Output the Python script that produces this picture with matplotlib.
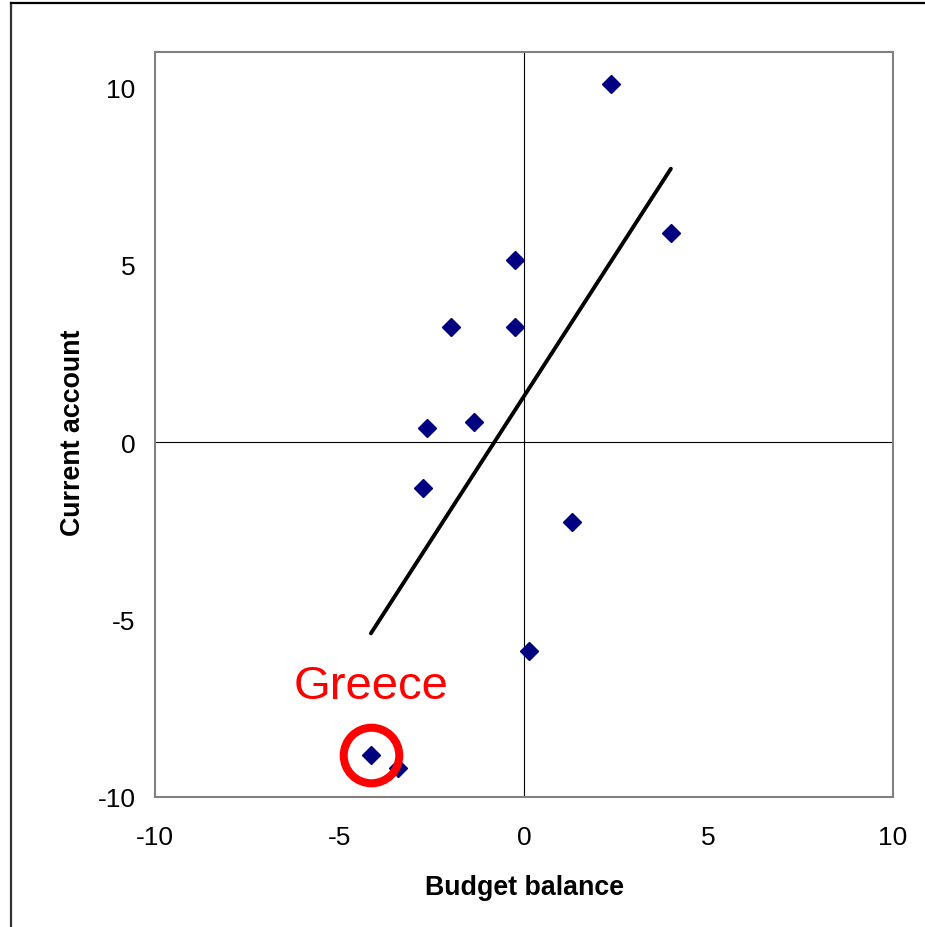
import matplotlib.pyplot as plt
from matplotlib.lines import Line2D
import numpy as np

# budget balance vs current account (% of GDP)
budget = [2.36, 3.98, -0.24, -1.98, -0.24, -1.36, -2.63, -2.74, 1.30, 0.14, -4.15, -3.41]
current = [10.11, 5.89, 5.13, 3.24, 3.24, 0.56, 0.39, -1.30, -2.25, -5.89, -8.82, -9.18]
greece = (-4.15, -8.82)
ticks = [-10, -5, 0, 5, 10]

plt.rcParams['font.family'] = ['Liberation Sans', 'DejaVu Sans']
plt.rcParams['axes.unicode_minus'] = False

fig = plt.figure(figsize=(9.25, 9.28), dpi=100)
ax = fig.add_axes([0.1676, 0.1401, 0.7978, 0.8028])

ax.axhline(0, color='black', lw=0.8, zorder=1)
ax.axvline(0, color='black', lw=0.8, zorder=1)

# linear trend line over the data range
k, b = np.polyfit(budget, current, 1)
xs = np.array([min(budget), max(budget)])
ax.plot(xs, k * xs + b, color='black', lw=2.8, solid_capstyle='round', zorder=2)

ax.plot(budget, current, 'D', color='#000080', markersize=9.5, zorder=3)

# highlight Greece
ax.plot(*greece, 'o', markersize=40, mfc='none', mec='#ff0000', mew=5.8, zorder=4)
ax.text(greece[0], greece[1] + 1.6, 'Greece', color='#ff0000', fontsize=34,
        ha='center', va='baseline')

ax.set_xlim(-10, 10)
ax.set_ylim(-10, 11)
ax.set_xticks(ticks)
ax.set_yticks(ticks)
ax.tick_params(length=0, labelsize=19)
ax.tick_params(axis='x', pad=20)
ax.tick_params(axis='y', pad=14)
for s in ax.spines.values():
    s.set_color('#808080')
    s.set_linewidth(1.5)

ax.set_xlabel('Budget balance', fontsize=19.3, fontweight='bold')
ax.set_ylabel('Current account', fontsize=19.3, fontweight='bold')
ax.xaxis.set_label_coords(0.5, -0.103)
ax.yaxis.set_label_coords(-0.093, 0.49)

# outer chart border (left and top edges visible)
fig.add_artist(Line2D([0.0115, 0.0115], [0, 0.9957], color='#333333', lw=1.6))
fig.add_artist(Line2D([0.0115, 1], [0.9957, 0.9957], color='black', lw=1.6))

plt.savefig('out.png', dpi=100)
